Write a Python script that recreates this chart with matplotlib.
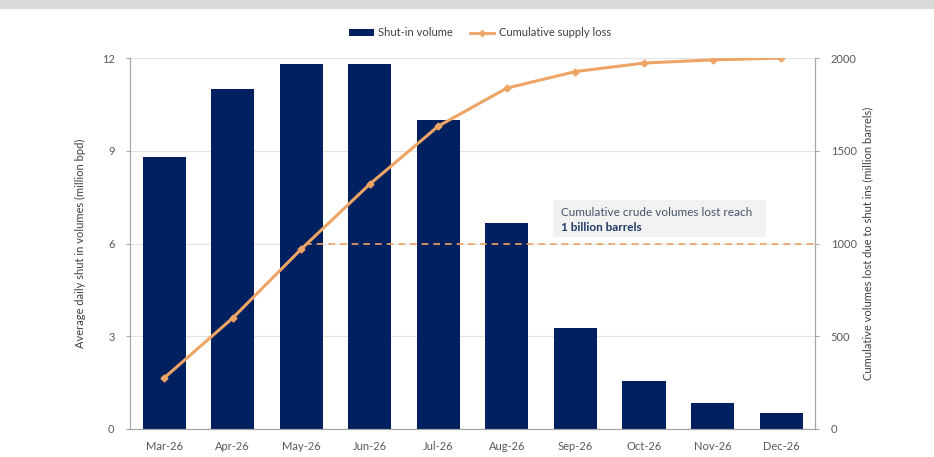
import matplotlib.pyplot as plt
from matplotlib.patches import Patch, Rectangle
from matplotlib.lines import Line2D

plt.rcParams['font.family'] = ['Lato', 'DejaVu Sans']

months = ['Mar-26', 'Apr-26', 'May-26', 'Jun-26', 'Jul-26',
          'Aug-26', 'Sep-26', 'Oct-26', 'Nov-26', 'Dec-26']
shut_in = [8.8, 11.0, 11.8, 11.8, 10.0, 6.65, 3.27, 1.55, 0.84, 0.52]
cum_loss = [275, 598, 970, 1320, 1633, 1838, 1927, 1973, 1990, 2000]
threshold = 1000

navy = '#002060'
orange = '#EDA465'
grey_txt = '#595959'

fig = plt.figure(figsize=(9.34, 4.57), dpi=100)
fig.patches.append(Rectangle((0, 1 - 8 / 457), 1, 8 / 457, transform=fig.transFigure,
                             color='#D9D9D9', zorder=0))
ax = fig.add_axes([0.139, 0.0613, 0.734, 0.8117])
ax2 = ax.twinx()

x = range(len(months))
ax.bar(x, shut_in, width=0.63, color=navy, zorder=2)
ax.set_ylim(0, 12)
ax.set_yticks([0, 3, 6, 9, 12])
ax.set_xlim(-0.5, len(months) - 0.5)
ax.set_xticks(list(x))
ax.set_xticklabels(months)
ax.grid(axis='y', color='#E3E3E3', linewidth=0.8, zorder=0)
ax.set_axisbelow(True)
ax.set_ylabel('Average daily shut in volumes (million bpd)', fontsize=8, color='#404040', labelpad=11)

ax2.plot(x, cum_loss, color=orange, linewidth=2.2, marker='D', markersize=3.5, zorder=3)
ax2.set_ylim(0, 2000)
ax2.set_yticks([0, 500, 1000, 1500, 2000])
ax2.set_ylabel('Cumulative volumes lost due to shut ins (million barrels)', fontsize=8,
               color='#404040', labelpad=4)
ax2.hlines(threshold, 2.05, len(months) - 0.5, colors=orange, linestyles=(0, (4, 3)),
           linewidth=1.2, zorder=2)

for a in (ax, ax2):
    a.spines['top'].set_visible(False)
    for s in ('left', 'right', 'bottom'):
        a.spines[s].set_color('#A6A6A6')
    a.tick_params(axis='y', labelsize=8, colors=grey_txt, length=3, color='#A6A6A6', pad=8)
ax.tick_params(axis='x', labelsize=8, colors=grey_txt, length=0, pad=9)

ax2.add_patch(Rectangle((5.675, 1035), 3.1, 200, facecolor='#F2F2F2', edgecolor='none', zorder=4))
ax2.text(5.79, 1168, 'Cumulative crude volumes lost reach', fontsize=8.5, color='#44546A',
         va='center', ha='left', zorder=5)
ax2.text(5.79, 1085, '1 billion barrels', fontsize=8.5, color='#1F3864', fontweight='bold',
         va='center', ha='left', zorder=5)

handles = [Patch(facecolor=navy, label='Shut-in volume'),
           Line2D([0], [0], color=orange, linewidth=2, marker='D', markersize=3,
                  label='Cumulative supply loss')]
fig.legend(handles=handles, loc='center', bbox_to_anchor=(0.514, 0.928), ncol=2,
           frameon=False, fontsize=8, handlelength=2.2, columnspacing=1.5, handletextpad=0.4,
           labelcolor='#404040')

fig.savefig('out.png', dpi=100)
